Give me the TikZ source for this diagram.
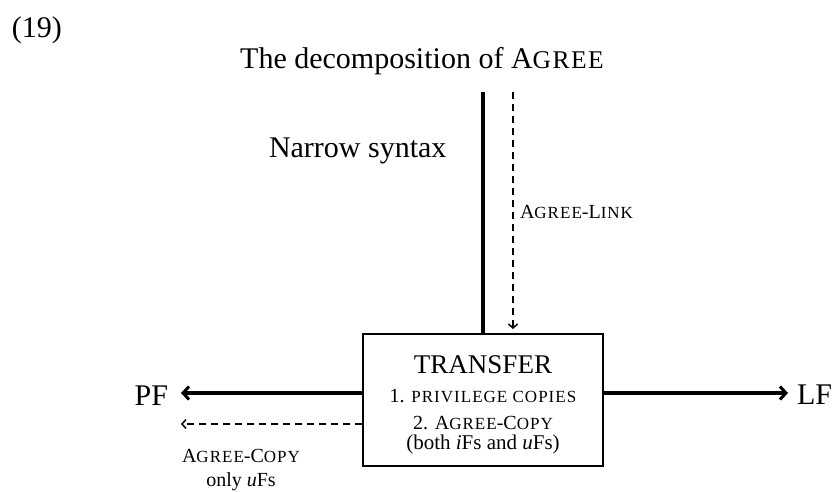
\documentclass[tikz,border=0pt]{standalone}
\usepackage{fontspec}
\setmainfont{Liberation Serif}
\newfontfamily\scf[LetterSpace=6]{Liberation Serif}
\usetikzlibrary{arrows.meta}
\newcommand\sct[2]{{\fontsize{#1}{#1}\scf #2}}
\newcommand\fz[1]{\fontsize{#1}{#1}\selectfont}
\tikzset{
  lbl/.style={inner sep=0pt, outer sep=0pt},
  heavy/.style={line width=3.5pt},
  heavyarrow/.style={line width=3.5pt, -{Straight Barb[length=6pt,width=13pt,line width=3pt]}},
  dasharrow/.style={line width=1.8pt, dash pattern=on 7pt off 5pt, -{Straight Barb[length=4pt,width=9pt,line width=1.5pt]}},
  boxst/.style={draw, line width=2.6pt, minimum width=240pt, minimum height=132pt, inner sep=0pt}
}
\begin{document}
\begin{tikzpicture}[x=1pt,y=-1pt]
\useasboundingbox (0,0) rectangle (835,491);
% labels
\node[lbl, anchor=base west] (num) at (12,37) {\fz{30}(19)};
\node[lbl, anchor=base] (title) at (422,68) {\fz{30}The decomposition of A\sct{25.5}{GREE}};
\node[lbl, anchor=base west] (ns) at (269,157) {\fz{30}Narrow syntax};
\node[lbl, anchor=base west] (al) at (520,218) {\fz{20}A\sct{17}{GREE}-L\sct{17}{INK}};
% box
\node[boxst] (tr) at (483,400) {};
\node[lbl, anchor=base] (t1) at (483,373) {\fz{27}TRANSFER};
\node[lbl, anchor=base] (t2) at (483,402) {\fz{20}1. \sct{17}{PRIVILEGE COPIES}};
\node[lbl, anchor=base] (t3) at (483,429) {\fz{20}2. A\sct{17}{GREE}-C\sct{17}{OPY}};
\node[lbl, anchor=base] (t4) at (483,449) {\fz{21}(both \textit{i}Fs and \textit{u}Fs)};
% PF / LF
\node[lbl, anchor=base east] (pf) at (168,405) {\fz{30}PF};
\node[lbl, anchor=base west] (lf) at (797,404) {\fz{30}LF};
\node[lbl, anchor=base] (ac) at (241,462) {\fz{20}A\sct{17}{GREE}-C\sct{17}{OPY}};
\node[lbl, anchor=base] (only) at (241,486) {\fz{20}only \textit{u}Fs};
% coordinates
\coordinate (ntop) at (483,92);
\coordinate (dtop) at (513,92);
\coordinate (dbot) at (513,329);
\coordinate (pfend) at (181,393);
\coordinate (pfdash) at (181,424);
\coordinate (lfend) at (788,393);
% connectors
\draw[heavy] (ntop) -- (tr.north);
\draw[dasharrow] (dtop) -- (dbot);
\draw[heavyarrow] (tr.west |- pfend) -- (pfend);
\draw[dasharrow] (tr.west |- pfdash) -- (pfdash);
\draw[heavyarrow] (tr.east |- lfend) -- (lfend);
\end{tikzpicture}
\end{document}
